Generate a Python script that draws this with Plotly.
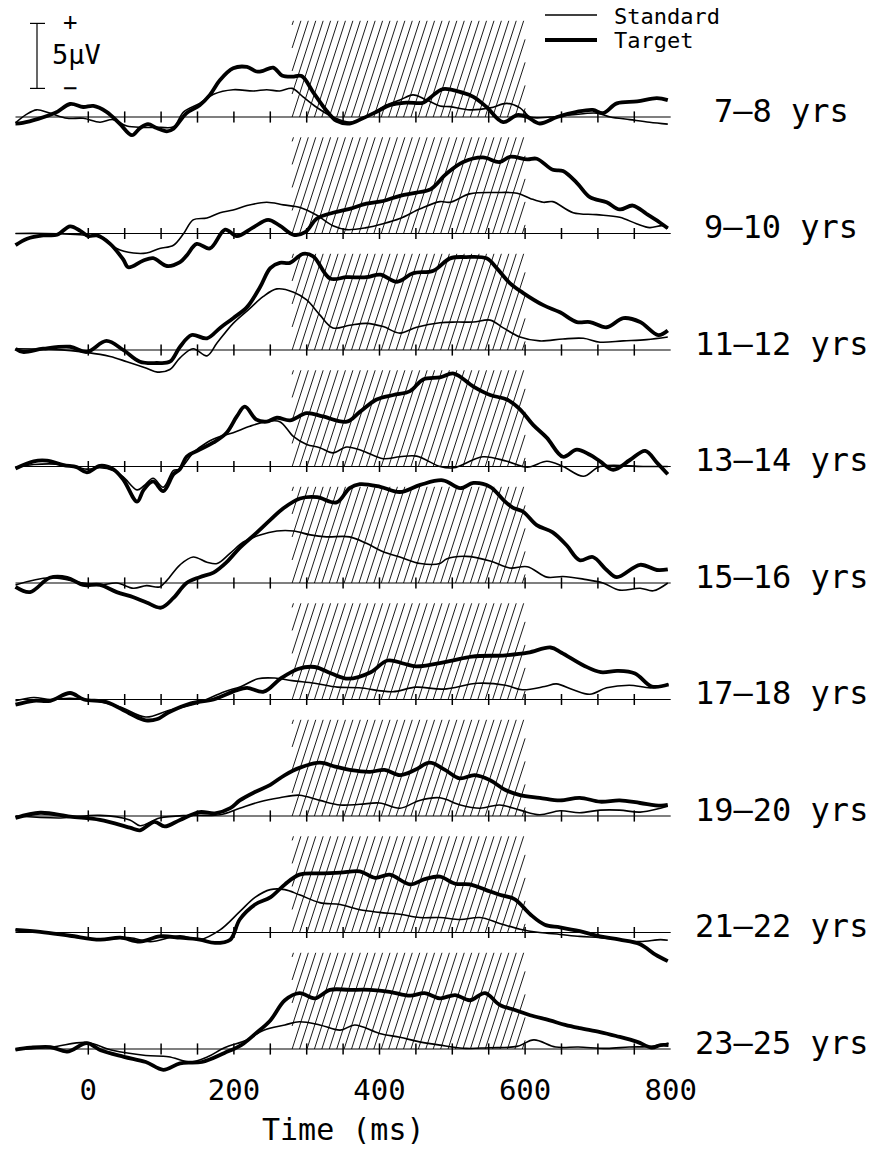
import plotly.graph_objects as go

# ---------------------------------------------------------------------------
# Data: grand-average ERPs (µV) at sampled latencies (ms), per age group
# ---------------------------------------------------------------------------
GROUPS = ["7–8 yrs", "9–10 yrs", "11–12 yrs", "13–14 yrs", "15–16 yrs",
          "17–18 yrs", "19–20 yrs", "21–22 yrs", "23–25 yrs"]

STANDARD_7_8 = [(-100, -0.45), (-85, 0.2), (-71, 0.55), (-53, 0.3), (-29, -0.1), (-7, -0.1), (16, -0.4),
                (34, -0.2), (53, -0.7), (75, -0.8), (99, -0.8), (117, -0.75), (131, 0.4), (153, 1.05),
                (172, 1.75), (199, 2.1), (227, 2.0), (245, 2.1), (263, 2.0), (280, 2.2), (295, 1.55),
                (313, 0.77), (336, 0.0), (359, -0.4), (382, 0.0), (405, 0.8), (428, 1.3), (446, 1.7),
                (465, 1.3), (483, 0.85), (497, 0.8), (524, 0.55), (552, 0.7), (575, 1.05), (593, 0.7),
                (607, 0.0), (634, 0.0), (662, 0.15), (699, 0.3), (717, 0.0), (744, -0.2), (771, -0.4),
                (796, -0.55)]
TARGET_7_8 = [(-100, -0.5), (-90, -0.45), (-46, 0.3), (-25, 1.0), (-7, 0.77), (7, 0.85), (25, 0.4),
              (43, -0.5), (60, -1.4), (71, -0.85), (82, -0.55), (94, -0.85), (108, -1.1), (117, -0.9),
              (135, 0.3), (153, 0.9), (167, 1.7), (181, 2.85), (199, 3.75), (218, 3.85), (231, 3.5),
              (240, 3.55), (254, 3.8), (266, 3.2), (280, 3.1), (293, 3.15), (309, 1.9), (327, 0.5),
              (341, -0.3), (359, -0.5), (377, -0.1), (396, 0.4), (414, 0.9), (437, 1.1), (460, 1.1),
              (470, 1.5), (487, 2.15), (515, 1.85), (529, 1.55), (547, 0.77), (570, -0.4), (589, 0.15),
              (603, 0.0), (620, -0.5), (644, 0.0), (671, 0.4), (693, 0.55), (707, 0.3), (726, 1.05),
              (754, 1.2), (781, 1.45), (796, 1.3)]

STANDARD_9_10 = [(-100, 0.0), (-60, 0.0), (0, -0.15), (20, -0.3), (39, -1.15), (62, -1.5), (80, -1.5),
                 (98, -1.15), (117, -0.9), (131, 0.0), (144, 1.05), (163, 1.2), (181, 1.6), (199, 1.8),
                 (218, 2.15), (245, 2.4), (268, 2.2), (291, 2.0), (314, 1.4), (336, 0.6), (355, 0.3),
                 (382, 0.45), (405, 0.75), (428, 1.15), (456, 1.9), (483, 2.45), (497, 2.4), (524, 3.05),
                 (561, 3.15), (589, 3.1), (607, 2.7), (625, 2.4), (638, 2.45), (666, 1.6), (698, 1.45),
                 (730, 1.25), (753, 0.75), (771, 0.45), (789, 0.6), (796, 0.4)]
TARGET_9_10 = [(-100, -0.9), (-84, -0.4), (-62, -0.15), (-43, -0.1), (-25, 0.55), (-11, 0.2), (0, -0.2),
               (12, -0.15), (30, -0.8), (48, -2.0), (55, -2.6), (75, -2.1), (89, -1.9), (108, -2.5),
               (126, -2.2), (135, -1.7), (149, -0.8), (167, -1.15), (188, 0.3), (204, -0.2), (226, 0.45),
               (247, 1.05), (263, 0.6), (282, -0.1), (298, 0.1), (314, 1.15), (336, 1.6), (359, 1.9),
               (382, 2.3), (405, 2.5), (428, 2.9), (451, 3.15), (470, 3.4), (492, 4.6), (515, 5.5),
               (542, 5.85), (565, 5.5), (579, 5.9), (603, 5.7), (616, 5.75), (638, 4.9), (652, 4.8),
               (671, 3.9), (689, 2.8), (712, 2.4), (730, 1.85), (748, 2.15), (767, 1.5), (785, 0.85),
               (796, 0.4)]

STANDARD_11_12 = [(-100, 0.1), (-50, 0.05), (0, -0.2), (30, -0.5), (53, -0.9), (80, -1.4), (95, -1.7),
                  (112, -1.5), (126, -0.6), (144, 0.1), (163, -0.45), (177, 0.55), (199, 2.05), (222, 3.2),
                  (240, 4.1), (259, 4.7), (282, 4.45), (300, 3.85), (318, 2.7), (336, 1.7), (359, 1.9),
                  (382, 2.05), (405, 1.8), (428, 1.3), (451, 1.75), (483, 2.1), (506, 2.15), (529, 2.15),
                  (552, 2.3), (570, 1.7), (593, 1.0), (620, 0.7), (652, 0.85), (680, 0.9), (703, 0.6),
                  (735, 0.7), (767, 0.8), (796, 1.0)]
TARGET_11_12 = [(-100, 0.1), (-90, -0.15), (-62, 0.1), (-25, 0.25), (-2, -0.15), (25, 0.7), (48, 0.0),
                (71, -0.9), (94, -1.0), (112, -0.9), (126, 0.25), (142, 1.15), (163, 0.9), (181, 1.7),
                (199, 2.45), (218, 3.3), (236, 4.85), (250, 6.3), (263, 6.7), (277, 6.7), (295, 7.4),
                (309, 7.2), (332, 5.5), (355, 5.6), (382, 5.6), (401, 5.8), (424, 5.25), (446, 5.9),
                (474, 6.1), (497, 7.05), (519, 7.15), (547, 7.05), (561, 6.3), (579, 5.15), (597, 4.4),
                (625, 3.45), (648, 2.9), (671, 2.15), (689, 2.15), (712, 1.75), (735, 2.45), (758, 2.15),
                (783, 1.15), (796, 1.5)]

STANDARD_13_14 = [(-100, -0.1), (-75, 0.15), (-34, 0.15), (-2, -0.2), (16, -0.1), (34, -0.3), (48, -0.8),
                  (67, -1.8), (76, -1.5), (89, -0.9), (103, -1.6), (117, -0.3), (126, -0.2), (144, 1.05),
                  (163, 1.85), (181, 2.3), (199, 2.6), (222, 3.1), (245, 3.45), (263, 3.45), (282, 2.3),
                  (300, 1.7), (318, 1.45), (336, 1.05), (355, 1.5), (377, 1.2), (405, 0.6), (428, 0.75),
                  (451, 0.8), (483, 0.0), (502, -0.1), (542, 0.75), (575, 0.4), (603, -0.05), (630, 0.4),
                  (652, 0.0), (680, -0.75), (703, 0.0), (762, 0.0), (796, 0.0)]
TARGET_13_14 = [(-100, -0.15), (-75, 0.4), (-57, 0.45), (-34, 0.1), (-16, -0.05), (-2, -0.45), (16, 0.05),
                (34, -0.2), (48, -1.0), (67, -2.7), (76, -1.8), (89, -1.15), (103, -1.9), (117, -0.6),
                (126, -0.2), (135, 0.75), (153, 1.3), (172, 1.85), (190, 2.6), (204, 3.85), (215, 4.6),
                (231, 3.6), (245, 3.45), (259, 3.75), (277, 3.55), (300, 4.1), (322, 3.85), (355, 3.45),
                (373, 4.2), (396, 5.15), (419, 5.5), (442, 5.8), (460, 6.7), (483, 6.85), (502, 7.15),
                (529, 6.15), (552, 5.5), (575, 5.15), (593, 4.4), (611, 3.2), (630, 2.2), (652, 0.75),
                (671, 1.3), (689, 0.9), (703, 0.4), (721, -0.25), (744, 0.5), (765, 1.2), (781, 0.3),
                (796, -0.6)]

STANDARD_15_16 = [(-100, -0.15), (-53, 0.4), (-7, 0.0), (16, -0.15), (39, 0.0), (62, -0.4), (80, -0.2),
                  (98, -0.3), (108, 0.2), (126, 1.4), (144, 2.0), (163, 1.6), (177, 1.5), (195, 2.3),
                  (213, 3.15), (236, 3.7), (259, 4.0), (282, 4.0), (305, 3.7), (327, 3.55), (359, 3.55),
                  (382, 3.05), (405, 2.4), (428, 2.0), (456, 1.5), (483, 1.5), (492, 1.85), (519, 2.05),
                  (552, 1.7), (579, 1.15), (603, 1.25), (630, 0.45), (652, 0.5), (680, 0.3), (707, 0.0),
                  (730, -0.55), (758, -0.4), (776, -0.6), (796, 0.0)]
TARGET_15_16 = [(-100, -0.3), (-80, -0.7), (-53, 0.4), (-29, 0.4), (-7, -0.15), (16, -0.15), (39, -0.7),
                (62, -1.1), (80, -1.5), (100, -1.9), (117, -1.15), (135, 0.0), (153, 0.45), (172, 0.8),
                (190, 1.6), (208, 2.7), (231, 3.85), (250, 4.85), (268, 5.75), (291, 6.5), (314, 6.6),
                (341, 6.2), (359, 7.3), (373, 7.6), (401, 7.4), (428, 7.0), (456, 7.55), (487, 7.9),
                (511, 7.3), (529, 7.7), (552, 7.4), (570, 6.4), (583, 5.8), (597, 5.5), (616, 4.45),
                (638, 3.9), (657, 2.9), (675, 1.75), (693, 2.0), (712, 1.0), (726, 0.45), (758, 1.4),
                (781, 1.0), (796, 1.05)]

STANDARD_17_18 = [(-100, -0.1), (-75, 0.15), (-52, 0.0), (-25, 0.1), (10, -0.1), (45, -0.6), (79, -1.35),
                  (110, -0.85), (149, -0.3), (187, 0.6), (210, 1.0), (233, 1.6), (256, 1.65), (280, 1.45),
                  (311, 1.25), (342, 0.95), (372, 0.9), (418, 0.6), (450, 0.95), (488, 0.8), (535, 1.25),
                  (573, 1.1), (596, 0.75), (627, 1.0), (643, 1.2), (666, 0.75), (689, 0.4), (712, 0.9),
                  (743, 1.1), (774, 0.9), (797, 1.2)]
TARGET_17_18 = [(-100, -0.4), (-75, -0.1), (-52, -0.1), (-25, 0.5), (-6, 0.0), (25, -0.2), (56, -1.05),
                (79, -1.6), (95, -1.5), (110, -1.0), (141, -0.3), (172, 0.0), (203, 0.7), (218, 0.9),
                (241, 0.6), (264, 1.6), (288, 2.35), (311, 2.5), (334, 2.0), (357, 1.6), (388, 2.1),
                (411, 3.0), (434, 2.75), (450, 2.55), (496, 2.95), (527, 3.3), (573, 3.4), (604, 3.6),
                (635, 4.0), (650, 3.6), (681, 2.6), (704, 2.1), (727, 2.2), (751, 2.0), (774, 1.0),
                (797, 1.15)]

STANDARD_19_20 = [(-100, 0.0), (-38, -0.15), (16, 0.05), (57, -0.3), (71, -0.75), (98, -0.15), (140, 0.05),
                  (181, 0.1), (208, 0.6), (236, 1.1), (263, 1.4), (290, 1.6), (318, 1.2), (346, 0.85),
                  (373, 0.9), (400, 1.0), (428, 0.6), (455, 1.2), (483, 1.4), (511, 0.85), (538, 0.6),
                  (565, 0.85), (593, 0.45), (620, 0.1), (648, 0.4), (675, 0.25), (703, 0.45), (730, 0.45),
                  (758, 0.3), (786, 0.6), (796, 0.75)]
TARGET_19_20 = [(-100, -0.15), (-66, 0.25), (-25, -0.05), (16, -0.3), (57, -0.9), (71, -1.1), (91, -0.45),
                (105, -0.8), (126, -0.3), (153, 0.3), (174, 0.2), (195, 0.6), (208, 1.2), (229, 1.85),
                (250, 2.4), (270, 3.15), (290, 3.7), (318, 4.1), (339, 3.8), (359, 3.55), (387, 3.4),
                (407, 3.55), (428, 3.15), (449, 3.55), (469, 4.1), (490, 3.55), (510, 2.9), (531, 3.15),
                (552, 2.75), (573, 2.0), (593, 1.6), (620, 1.4), (648, 1.2), (675, 1.4), (703, 1.1),
                (730, 1.2), (758, 1.0), (786, 0.8), (796, 0.85)]

STANDARD_21_22 = [(-100, 0.2), (-38, -0.15), (16, -0.55), (57, -0.4), (85, -0.7), (126, -0.25), (153, -0.55),
                  (181, 0.2), (208, 1.6), (229, 2.7), (250, 3.3), (270, 3.3), (290, 2.9), (318, 2.3),
                  (346, 2.15), (373, 1.75), (400, 1.55), (428, 1.4), (455, 1.15), (483, 1.15), (511, 1.0),
                  (538, 1.15), (565, 0.7), (593, 0.25), (620, 0.0), (648, -0.15), (675, -0.3), (703, -0.4),
                  (730, -0.55), (758, -0.7), (786, -0.55), (796, -0.6)]
TARGET_21_22 = [(-100, 0.2), (-66, 0.05), (-25, -0.25), (16, -0.55), (44, -0.4), (71, -0.7), (98, -0.3),
                (126, -0.4), (153, -0.55), (174, -0.8), (195, -0.55), (208, 1.0), (229, 2.15), (250, 2.7),
                (270, 3.7), (290, 4.45), (318, 4.55), (346, 4.6), (373, 4.7), (394, 4.2), (414, 4.45),
                (442, 3.7), (462, 4.1), (483, 4.3), (504, 3.75), (524, 3.7), (545, 3.3), (565, 2.9),
                (586, 2.55), (607, 1.4), (627, 0.6), (648, 0.4), (675, 0.1), (703, -0.3), (730, -0.55),
                (758, -0.9), (779, -1.7), (796, -2.2)]

STANDARD_23_25 = [(-100, -0.05), (-50, 0.15), (-2, 0.5), (33, -0.1), (79, -0.5), (110, -0.6), (141, -1.0),
                  (164, -0.6), (187, 0.1), (218, 0.7), (241, 1.45), (270, 1.85), (290, 2.1), (318, 1.85),
                  (346, 1.45), (366, 1.85), (400, 1.2), (428, 0.9), (455, 0.55), (483, 0.3), (519, 0.05),
                  (550, 0.1), (589, 0.2), (612, 0.7), (642, 0.15), (673, 0.15), (712, 0.05), (743, 0.15),
                  (774, 0.2), (797, 0.45)]
TARGET_23_25 = [(-100, -0.05), (-80, 0.1), (-52, 0.15), (-29, -0.2), (-2, 0.45), (17, -0.1), (49, -0.6),
                (79, -1.0), (103, -1.6), (126, -1.1), (156, -1.0), (187, -0.3), (210, 0.3), (230, 1.2),
                (250, 2.2), (270, 3.75), (290, 4.3), (311, 3.9), (332, 4.55), (359, 4.55), (387, 4.55),
                (414, 4.4), (442, 4.1), (462, 4.3), (483, 3.9), (504, 4.15), (524, 3.75), (545, 4.3),
                (565, 3.4), (586, 3.0), (607, 2.6), (634, 2.2), (655, 1.85), (675, 1.6), (703, 1.3),
                (725, 1.0), (754, 0.55), (774, 0.1), (786, 0.3), (797, 0.3)]

STANDARD = [STANDARD_7_8, STANDARD_9_10, STANDARD_11_12, STANDARD_13_14, STANDARD_15_16,
            STANDARD_17_18, STANDARD_19_20, STANDARD_21_22, STANDARD_23_25]
TARGET = [TARGET_7_8, TARGET_9_10, TARGET_11_12, TARGET_13_14, TARGET_15_16,
          TARGET_17_18, TARGET_19_20, TARGET_21_22, TARGET_23_25]

EPOCH = (-100, 800)            # ms
WINDOW = (280, 600)            # shaded analysis window, ms
MINOR_TICKS = list(range(0, 800, 50))
AXIS_TICKS = [0, 200, 400, 600, 800]
SCALE_UV = 5

# ---------------------------------------------------------------------------
# Layout geometry
# ---------------------------------------------------------------------------
W, H = 877, 1149
PX_PER_MS = 0.728
ZERO_PX = 88.3                 # horizontal pixel of t = 0
PX_PER_UV = 13.0
FIRST_BASE = 117.0             # pixel row of the first baseline
ROW_STEP = 116.5
BELOW, ABOVE = 45, 105         # pixel extent of each row around its baseline
HATCH_TOP_UV = 7.4
HATCH_STEP_MS = 10.2
HATCH_SLOPE_PX = 3.1           # rise per horizontal pixel of hatch strokes

FONT = "DejaVu Sans Mono"
INK = "black"

x_range = [-ZERO_PX / PX_PER_MS, (W - ZERO_PX) / PX_PER_MS]


def ms_at(px):
    return (px - ZERO_PX) / PX_PER_MS


def row_of(px):
    """Paper fraction of a pixel row counted from the top."""
    return 1 - px / H


def hatch(t0, t1, vtop, step, slope):
    xs, ys = [], []
    reach = vtop / slope
    s = t0 - step * int(reach / step + 1)
    while s <= t1:
        a, b = max(t0, s), min(t1, s + reach)
        if a < b:
            xs += [a, b, None]
            ys += [slope * (a - s), slope * (b - s), None]
        s += step
    return xs, ys


fig = go.Figure()
layout_axes = {}
annotations = []
shapes = []
slope_uv = HATCH_SLOPE_PX * PX_PER_MS / PX_PER_UV

for k, label in enumerate(GROUPS):
    ax = "y" if k == 0 else f"y{k + 1}"
    key = "yaxis" if k == 0 else f"yaxis{k + 1}"
    base = FIRST_BASE + k * ROW_STEP
    layout_axes[key] = dict(
        domain=[row_of(base + BELOW), row_of(base - ABOVE)],
        range=[-BELOW / PX_PER_UV, ABOVE / PX_PER_UV],
        visible=False, fixedrange=True, anchor="x",
    )

    hx, hy = hatch(WINDOW[0], WINDOW[1], HATCH_TOP_UV, HATCH_STEP_MS, slope_uv)
    fig.add_trace(go.Scatter(x=hx, y=hy, yaxis=ax, mode="lines",
                             line=dict(color=INK, width=0.9), hoverinfo="skip", showlegend=False))

    fig.add_trace(go.Scatter(x=list(EPOCH), y=[0, 0], yaxis=ax, mode="lines",
                             line=dict(color=INK, width=1.2), hoverinfo="skip", showlegend=False))
    fig.add_trace(go.Scatter(x=MINOR_TICKS, y=[0] * len(MINOR_TICKS), yaxis=ax, mode="markers",
                             marker=dict(symbol="line-ns", size=8, line=dict(color=INK, width=1.5)),
                             hoverinfo="skip", showlegend=False))

    st = STANDARD[k]
    tg = TARGET[k]
    fig.add_trace(go.Scatter(x=[p[0] for p in st], y=[p[1] for p in st], yaxis=ax, mode="lines",
                             name="Standard", showlegend=False,
                             line=dict(color=INK, width=1.6, shape="spline", smoothing=1.0)))
    fig.add_trace(go.Scatter(x=[p[0] for p in tg], y=[p[1] for p in tg], yaxis=ax, mode="lines",
                             name="Target", showlegend=False,
                             line=dict(color=INK, width=3.8, shape="spline", smoothing=1.0)))

    annotations.append(dict(x=ms_at(781), y=0.5, xref="x", yref=ax, text=label, showarrow=False,
                            xanchor="center", yanchor="middle",
                            font=dict(family=FONT, size=32, color=INK)))

# Voltage scale bar (5 µV) drawn in the first row's units
bar_x = ms_at(37)
bar_lo = 2.2
shapes.append(dict(type="line", xref="x", yref="y", x0=bar_x, x1=bar_x,
                   y0=bar_lo, y1=bar_lo + SCALE_UV, line=dict(color=INK, width=1.2)))
for yv in (bar_lo, bar_lo + SCALE_UV):
    shapes.append(dict(type="line", xref="x", yref="y", x0=ms_at(30), x1=ms_at(45),
                       y0=yv, y1=yv, line=dict(color=INK, width=1.2)))
annotations += [
    dict(x=ms_at(70), y=row_of(22), xref="x", yref="paper", text="+", showarrow=False,
         yanchor="middle", font=dict(family=FONT, size=24, color=INK)),
    dict(x=ms_at(76), y=row_of(55), xref="x", yref="paper", text="5μV", showarrow=False,
         yanchor="middle", font=dict(family=FONT, size=27, color=INK)),
    dict(x=ms_at(70), y=row_of(88), xref="x", yref="paper", text="−", showarrow=False,
         yanchor="middle", font=dict(family=FONT, size=24, color=INK)),
]

# Key for the two conditions
for yp, wdt, txt in ((15, 1.6, "Standard"), (40, 3.8, "Target")):
    shapes.append(dict(type="line", xref="paper", yref="paper", x0=545 / W, x1=597 / W,
                       y0=row_of(yp), y1=row_of(yp), line=dict(color=INK, width=wdt)))
    annotations.append(dict(x=612 / W, y=row_of(yp + 1), xref="paper", yref="paper", text=txt,
                            showarrow=False, xanchor="left", yanchor="middle",
                            font=dict(family=FONT, size=22, color=INK)))

# Axis title, centred under the recording epoch
annotations.append(dict(x=sum(EPOCH) / 2, y=row_of(1129), xref="x", yref="paper", text="Time (ms)",
                        showarrow=False, xanchor="center", yanchor="middle",
                        font=dict(family=FONT, size=30, color=INK)))

fig.update_layout(
    width=W, height=H, autosize=False,
    margin=dict(l=0, r=0, t=0, b=0),
    paper_bgcolor="white", plot_bgcolor="rgba(0,0,0,0)",
    showlegend=False,
    xaxis=dict(range=x_range, domain=[0, 1], anchor="free", position=row_of(1070),
               showgrid=False, zeroline=False, showline=False, ticks="",
               tickvals=AXIS_TICKS, ticktext=[str(v) for v in AXIS_TICKS],
               tickfont=dict(family=FONT, size=29, color=INK),
               fixedrange=True),
    shapes=shapes,
    annotations=annotations,
    **layout_axes,
)

fig.write_html("out.html")
